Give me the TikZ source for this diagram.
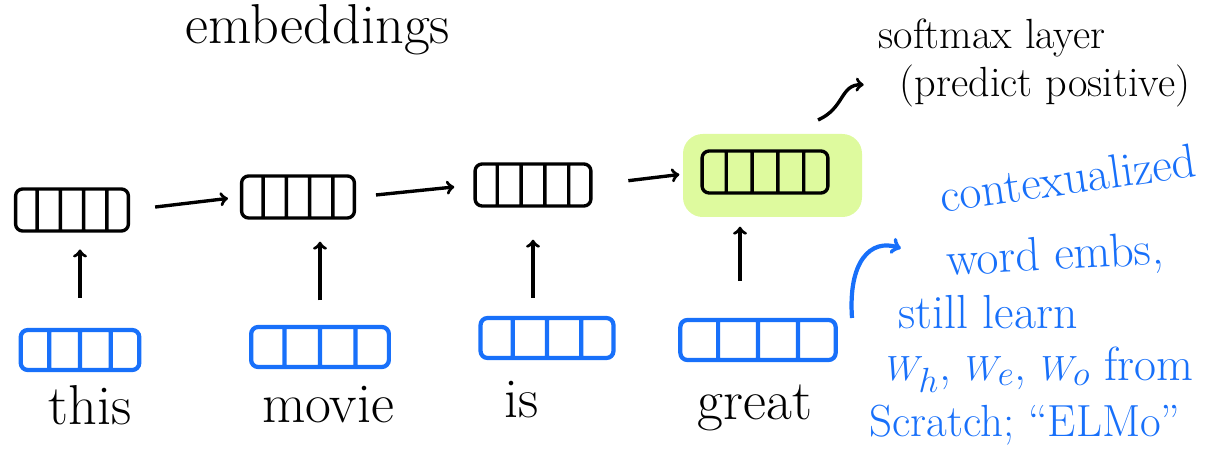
\documentclass[tikz,border=0pt]{standalone}
\usepackage{xcolor}
\usepackage{amsmath}
\usepackage{tikz}
\usetikzlibrary{calc,shapes.multipart,arrows}

\definecolor{penblue}{RGB}{24,112,250}
\definecolor{hilite}{RGB}{222,250,158}

\begin{document}
\begin{tikzpicture}[x=0.025cm,y=-0.025cm]
                \tikzstyle{every node}+=[inner sep=0pt]
                \tikzstyle{hid}=[draw=black, line width=2.4pt, rectangle split, rectangle split horizontal, rectangle split parts=5, minimum height=1.05cm, rounded corners=5pt]
                \tikzstyle{emb}=[draw=penblue, line width=3pt, rectangle split, rectangle split horizontal, rectangle split parts=4, minimum height=1cm, rounded corners=5pt]
                \tikzstyle{word}=[font=\fontsize{40}{44}\selectfont]
                \tikzstyle{note}=[text=penblue, font=\fontsize{34}{38}\selectfont]
                \tikzstyle{link}=[line width=2.4pt, ->, >=to]
                \useasboundingbox (0,0) rectangle (1214,465);
                % title
                \node[word] (title) at (318,30) {embeddings};
                % last state is highlighted
                \fill [hilite, rounded corners=14pt] (683,134) rectangle (862,217);
                % hidden states
                \node[hid, rectangle split empty part width=0.345cm] (h1) at (72,210) {};
                \node[hid, rectangle split empty part width=0.345cm] (h2) at (298,197) {};
                \node[hid, rectangle split empty part width=0.36cm] (h3) at (533,185) {};
                \node[hid, rectangle split empty part width=0.41cm] (h4) at (765,172) {};
                % input embeddings
                \node[emb, rectangle split empty part width=0.51cm] (e1) at (80,350) {};
                \node[emb, rectangle split empty part width=0.63cm] (e2) at (320,347) {};
                \node[emb, rectangle split empty part width=0.6cm] (e3) at (547,338) {};
                \node[emb, rectangle split empty part width=0.74cm] (e4) at (758,340) {};
                % words
                \node[word] (w1) at (90,405) {this};
                \node[word] (w2) at (328,405) {movie};
                \node[word] (w3) at (522,400) {is};
                \node[word] (w4) at (755,408) {great};
                % recurrence
                \draw[link, shorten <=0.63cm, shorten >=0.3cm] (h1.east) -- (h2.west);
                \draw[link, shorten <=0.5cm, shorten >=0.48cm] (h2.east) -- (h3.west);
                \draw[link, shorten <=0.9cm, shorten >=0.53cm] (h3.east) -- (h4.west);
                % inputs
                \draw[link, shorten <=0.75cm, shorten >=0.42cm] (e1.north) -- (e1.north |- h1.south);
                \draw[link, shorten <=0.61cm, shorten >=0.55cm] (e2.north) -- (e2.north |- h2.south);
                \draw[link, shorten <=0.45cm, shorten >=0.8cm] (h3.south |- e3.north) -- (h3.south);
                \draw[link, shorten <=0.92cm, shorten >=0.8cm] (h4.south -| e4.north) ++(-18,0) coordinate (up4) (up4 |- e4.north) -- (up4);
                % softmax
                \node[font=\fontsize{30}{34}\selectfont] (sm1) at (992,38) {softmax layer};
                \node[font=\fontsize{30}{34}\selectfont] (sm2) at (1045,86) {(predict positive)};
                \coordinate (smtail) at (818,120);
                \draw[link, shorten >=0.9cm] (smtail) .. controls (845,108) and (840,84) .. (sm2.west);
                % notes
                \node[note, rotate=8] (n1) at (1068,178) {contexualized};
                \node[note, rotate=3] (n2) at (1055,258) {word embs,};
                \node[note] (n3) at (988,312) {still learn};
                \node[note] (n4) at (1040,370) {$W_h$, $W_e$, $W_o$ from};
                \node[note, font=\fontsize{32}{36}\selectfont] (n5) at (1025,425) {Scratch; ``ELMo''};
                \coordinate (ntail) at (852,318);
                \draw[link, penblue, line width=3pt, shorten >=1.2cm] (ntail) .. controls (848,262) and (870,238) .. (n2.west);
\end{tikzpicture}
\end{document}
